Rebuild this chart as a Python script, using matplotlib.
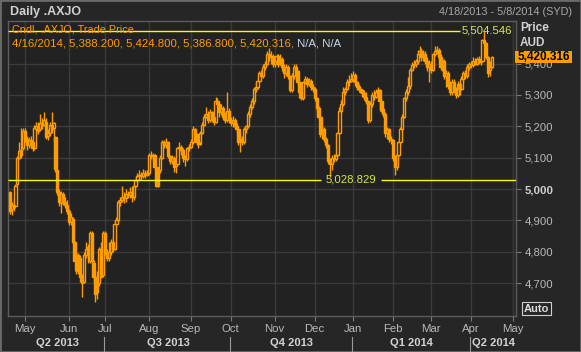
import matplotlib
matplotlib.use('Agg')
import matplotlib.pyplot as plt
import matplotlib.transforms as mtransforms
from matplotlib.patches import Rectangle
import numpy as np
import pandas as pd

FAM = ['Liberation Sans', 'DejaVu Sans']
plt.rcParams['font.family'] = FAM

# ---------------- data ----------------
holidays = ['2013-04-25', '2013-06-10', '2013-12-25', '2013-12-26', '2014-01-01', '2014-01-27']
trade_dates = [d for d in pd.bdate_range('2013-04-18', '2014-04-16') if d.strftime('%Y-%m-%d') not in holidays]
future_dates = list(pd.bdate_range('2014-04-17', '2014-05-08'))

opens = [
    4990, 4935, 4950, 4945, 5015, 5100, 5125, 5130, 5185, 5160,
    5140, 5155, 5150, 5130, 5190, 5200, 5190, 5210, 5205, 5215,
    5170, 5180, 5205, 5195, 5165, 5060, 4990, 4955, 4985, 4960,
    4950, 4930, 4895, 4905, 4830, 4770, 4790, 4780, 4720, 4705,
    4790, 4815, 4770, 4860, 4765, 4720, 4670, 4700, 4810, 4725,
    4860, 4800, 4780, 4800, 4830, 4810, 4890, 4900, 4960, 4965,
    4975, 4970, 4985, 4980, 4990, 4975, 5010, 5030, 5040, 5045,
    5040, 5050, 5045, 5050, 5110, 5105, 5110, 5070, 5010, 5060,
    5100, 5150, 5140, 5150, 5105, 5090, 5100, 5075, 5080, 5130,
    5135, 5125, 5100, 5095, 5130, 5135, 5150, 5190, 5175, 5150,
    5145, 5180, 5205, 5230, 5240, 5220, 5245, 5230, 5215, 5280,
    5270, 5245, 5260, 5230, 5220, 5250, 5220, 5210, 5220, 5200,
    5190, 5150, 5160, 5150, 5190, 5200, 5240, 5262, 5280, 5320,
    5325, 5345, 5370, 5360, 5390, 5400, 5430, 5420, 5425, 5400,
    5410, 5425, 5400, 5415, 5390, 5370, 5390, 5360, 5315, 5360,
    5390, 5375, 5340, 5310, 5290, 5340, 5350, 5335, 5345, 5325,
    5320, 5290, 5260, 5230, 5175, 5190, 5160, 5140, 5090, 5080,
    5100, 5095, 5110, 5180, 5250, 5270, 5310, 5320, 5340, 5345,
    5350, 5365, 5340, 5325, 5320, 5315, 5305, 5295, 5280, 5220,
    5270, 5300, 5295, 5310, 5315, 5280, 5255, 5240, 5180, 5190,
    5160, 5155, 5100, 5070, 5110, 5150, 5190, 5230, 5290, 5310,
    5330, 5380, 5395, 5400, 5410, 5430, 5440, 5420, 5430, 5410,
    5390, 5400, 5380, 5430, 5440, 5445, 5420, 5390, 5410, 5360,
    5370, 5330, 5310, 5340, 5320, 5300, 5335, 5320, 5350, 5370,
    5360, 5390, 5400, 5395, 5410, 5400, 5415, 5405, 5410, 5475,
    5465, 5420, 5380, 5388.2,
]
highs = [
    4995, 4960, 4970, 5016, 5105, 5150, 5195, 5195, 5195, 5170,
    5165, 5170, 5160, 5205, 5215, 5215, 5240, 5225, 5245, 5225,
    5190, 5215, 5245, 5215, 5170, 5065, 5000, 4995, 4990, 4975,
    4965, 4935, 4925, 4910, 4835, 4800, 4795, 4790, 4730, 4800,
    4830, 4825, 4865, 4865, 4775, 4725, 4740, 4815, 4830, 4865,
    4865, 4810, 4830, 4840, 4850, 4900, 4910, 4965, 4975, 5010,
    4990, 5000, 4995, 5005, 5010, 5015, 5040, 5050, 5060, 5055,
    5065, 5060, 5060, 5115, 5120, 5115, 5112, 5075, 5065, 5110,
    5156, 5158, 5162, 5152, 5110, 5110, 5105, 5090, 5135, 5150,
    5140, 5130, 5110, 5135, 5145, 5160, 5200, 5195, 5180, 5165,
    5185, 5215, 5240, 5262, 5250, 5255, 5250, 5240, 5294, 5290,
    5275, 5270, 5265, 5245, 5310, 5260, 5230, 5232, 5225, 5210,
    5195, 5175, 5170, 5198, 5205, 5250, 5270, 5290, 5325, 5340,
    5355, 5375, 5380, 5400, 5410, 5440, 5450, 5440, 5430, 5425,
    5430, 5430, 5430, 5420, 5400, 5400, 5395, 5365, 5370, 5400,
    5400, 5380, 5345, 5320, 5345, 5360, 5357, 5355, 5350, 5335,
    5325, 5295, 5265, 5235, 5200, 5198, 5165, 5145, 5100, 5110,
    5112, 5115, 5185, 5262, 5285, 5325, 5325, 5350, 5365, 5370,
    5375, 5370, 5345, 5335, 5330, 5320, 5315, 5310, 5285, 5280,
    5310, 5315, 5320, 5325, 5320, 5290, 5260, 5245, 5198, 5195,
    5170, 5160, 5110, 5115, 5160, 5198, 5240, 5294, 5320, 5357,
    5385, 5405, 5412, 5415, 5445, 5455, 5450, 5445, 5440, 5420,
    5412, 5410, 5435, 5455, 5455, 5450, 5430, 5420, 5415, 5380,
    5375, 5345, 5350, 5350, 5325, 5345, 5340, 5360, 5375, 5380,
    5400, 5405, 5410, 5420, 5418, 5420, 5425, 5420, 5480, 5504.546,
    5470, 5425, 5410, 5424.8,
]
lows = [
    4920, 4918, 4930, 4940, 5010, 5095, 5100, 5125, 5150, 5125,
    5130, 5135, 5120, 5125, 5180, 5175, 5185, 5190, 5200, 5160,
    5155, 5170, 5180, 5150, 5055, 4980, 4945, 4925, 4950, 4940,
    4920, 4885, 4885, 4825, 4740, 4730, 4730, 4705, 4655, 4700,
    4780, 4765, 4765, 4760, 4700, 4640, 4650, 4690, 4715, 4720,
    4790, 4770, 4770, 4790, 4800, 4805, 4880, 4895, 4945, 4960,
    4955, 4960, 4970, 4970, 4960, 4965, 5005, 5020, 5030, 5030,
    5035, 5035, 5040, 5045, 5095, 5090, 5060, 5005, 5005, 5050,
    5095, 5130, 5130, 5100, 5080, 5080, 5055, 5050, 5075, 5120,
    5110, 5085, 5075, 5090, 5120, 5130, 5145, 5160, 5140, 5130,
    5140, 5175, 5200, 5225, 5210, 5215, 5215, 5205, 5210, 5255,
    5230, 5235, 5220, 5210, 5215, 5210, 5200, 5198, 5195, 5180,
    5140, 5118, 5140, 5145, 5180, 5195, 5230, 5255, 5270, 5310,
    5320, 5340, 5350, 5355, 5380, 5395, 5410, 5400, 5390, 5390,
    5400, 5390, 5395, 5375, 5355, 5360, 5350, 5310, 5310, 5350,
    5365, 5330, 5290, 5284, 5285, 5335, 5325, 5330, 5315, 5310,
    5280, 5250, 5220, 5165, 5160, 5150, 5130, 5080, 5038, 5060,
    5085, 5088, 5105, 5175, 5240, 5265, 5300, 5315, 5330, 5340,
    5340, 5330, 5315, 5310, 5305, 5295, 5285, 5270, 5210, 5215,
    5262, 5285, 5290, 5295, 5250, 5245, 5230, 5166, 5160, 5150,
    5145, 5090, 5045, 5060, 5105, 5140, 5185, 5225, 5280, 5300,
    5320, 5375, 5385, 5390, 5400, 5420, 5410, 5410, 5400, 5375,
    5340, 5370, 5375, 5425, 5430, 5410, 5380, 5375, 5350, 5325,
    5320, 5300, 5300, 5305, 5290, 5295, 5300, 5315, 5340, 5350,
    5355, 5380, 5385, 5390, 5395, 5395, 5398, 5395, 5405, 5450,
    5415, 5357, 5360, 5386.8,
]
closes = [
    4930, 4950, 4945, 5010, 5100, 5120, 5110, 5185, 5160, 5140,
    5155, 5150, 5130, 5195, 5200, 5185, 5210, 5205, 5220, 5165,
    5180, 5205, 5190, 5210, 5065, 4990, 4960, 4985, 4960, 4950,
    4930, 4895, 4910, 4830, 4770, 4790, 4740, 4720, 4700, 4790,
    4810, 4790, 4860, 4770, 4720, 4665, 4700, 4810, 4720, 4860,
    4800, 4780, 4800, 4830, 4810, 4890, 4900, 4960, 4965, 4975,
    4970, 4985, 4980, 4990, 4975, 5010, 5030, 5040, 5045, 5040,
    5050, 5045, 5050, 5110, 5105, 5110, 5070, 5010, 5060, 5100,
    5150, 5140, 5150, 5105, 5090, 5100, 5070, 5080, 5130, 5135,
    5125, 5100, 5095, 5130, 5135, 5150, 5190, 5175, 5150, 5145,
    5180, 5205, 5230, 5240, 5220, 5245, 5230, 5215, 5280, 5270,
    5245, 5260, 5230, 5220, 5250, 5220, 5210, 5220, 5200, 5190,
    5150, 5160, 5150, 5190, 5200, 5240, 5262, 5280, 5320, 5325,
    5345, 5370, 5360, 5390, 5400, 5430, 5420, 5425, 5400, 5410,
    5425, 5400, 5415, 5390, 5370, 5390, 5360, 5315, 5360, 5390,
    5375, 5340, 5310, 5290, 5340, 5350, 5335, 5345, 5325, 5320,
    5290, 5260, 5230, 5175, 5190, 5160, 5140, 5090, 5080, 5100,
    5095, 5110, 5180, 5250, 5270, 5310, 5320, 5340, 5345, 5350,
    5365, 5340, 5325, 5320, 5315, 5305, 5295, 5280, 5220, 5270,
    5300, 5295, 5310, 5315, 5280, 5255, 5240, 5180, 5190, 5160,
    5155, 5100, 5070, 5110, 5150, 5190, 5230, 5290, 5310, 5330,
    5380, 5395, 5400, 5410, 5430, 5440, 5420, 5430, 5410, 5390,
    5400, 5380, 5430, 5440, 5445, 5420, 5390, 5410, 5360, 5370,
    5330, 5310, 5340, 5320, 5300, 5335, 5320, 5350, 5370, 5360,
    5390, 5400, 5395, 5410, 5400, 5415, 5405, 5410, 5475, 5465,
    5420, 5370, 5388, 5420.316,
]

y_ticks = [4700, 4800, 4900, 5000, 5100, 5200, 5300, 5400]
high_line = 5504.546
low_line = 5028.829
last_price = 5420.316
header_line1 = 'Cndl, .AXJO, Trade Price'
header_line2 = '4/16/2014, 5,388.200, 5,424.800, 5,386.800, 5,420.316,'
header_na = ' N/A, N/A'
quarters = [('Q2 2013', '2013-04-01'), ('Q3 2013', '2013-07-01'), ('Q4 2013', '2013-10-01'),
            ('Q1 2014', '2014-01-01'), ('Q2 2014', '2014-04-01')]

# ---------------- styling ----------------
W, H = 581, 352
FIG_BG = '#262626'
AX_BG = '#222222'
GRID = '#3b3b3b'
SPINE = '#5c5c5c'
ORANGE = '#ff9c00'
YELLOW = '#ffff00'
LBLYEL = '#d4e84a'
TXT = '#b9b9b9'
TXT2 = '#d2d2d2'
FS = 8.2

def fx(x):
    return x / W

def fy(y):
    return 1 - y / H

fig = plt.figure(figsize=(W / 100, H / 100), dpi=100, facecolor=FIG_BG)
L, R, T, B = 8, 516, 21, 316
ax = fig.add_axes([fx(L), fy(B), fx(R - L), (B - T) / H])
ax.set_facecolor(AX_BG)

all_dates = pd.DatetimeIndex(trade_dates + future_dates)
n = len(closes)
x = np.arange(n)
o = np.array(opens, float)
h = np.array(highs, float)
l = np.array(lows, float)
c = np.array(closes, float)
up = c >= o

ax.vlines(x, l, h, color=ORANGE, lw=1.0, zorder=3)
bot = np.minimum(o, c)
hei = np.maximum(np.abs(c - o), 2.0)
ax.bar(x[up], hei[up], bottom=bot[up], width=1.15, facecolor=AX_BG, edgecolor=ORANGE, linewidth=1.0, zorder=4)
ax.bar(x[~up], hei[~up], bottom=bot[~up], width=1.15, facecolor=ORANGE, edgecolor=ORANGE, linewidth=1.0, zorder=4)

ax.set_xlim(-0.9, 265.6)
ax.set_ylim(4595, 5536)

# month ticks
month_starts = []
month_labels = []
prev = None
for i, d in enumerate(all_dates):
    key = (d.year, d.month)
    if key != prev:
        if i > 0:
            month_starts.append(i)
            month_labels.append(d.strftime('%b'))
        prev = key
ax.set_xticks(month_starts)
ax.set_xticklabels(month_labels)
ax.set_yticks(y_ticks)
ax.set_yticklabels(['{:,}'.format(v) for v in y_ticks])
ax.yaxis.tick_right()
ax.tick_params(axis='both', colors='#7a7a7a', labelcolor=TXT, labelsize=FS, length=3.5, width=0.8)
ax.tick_params(axis='y', pad=2.5)
ax.tick_params(axis='x', pad=2.5)
for lab in ax.get_yticklabels():
    if lab.get_text() == '5,000':
        lab.set_fontweight('bold')
        lab.set_color('#d0d0d0')
ax.grid(True, color=GRID, lw=1.0)
ax.set_axisbelow(True)
for s in ax.spines.values():
    s.set_color(SPINE)
    s.set_linewidth(1.0)

# reference lines
def xi(px):
    return (px - 9.75) / 1.906

ax.hlines(high_line, -0.9, xi(460), color=YELLOW, lw=1.0, zorder=5)
ax.text(xi(462), high_line, '{:,.3f}'.format(high_line), color=LBLYEL, fontsize=FS,
        ha='left', va='center', zorder=6, clip_on=False)
ax.hlines(low_line, -0.9, xi(321), color=YELLOW, lw=1.0, zorder=5)
ax.hlines(low_line, xi(381), 265.6, color=YELLOW, lw=1.0, zorder=5)
ax.text(xi(351), low_line, '{:,.3f}'.format(low_line), color=LBLYEL, fontsize=FS,
        ha='center', va='center', zorder=6)

# header texts
fig.text(fx(10), fy(12), 'Daily .AXJO', color=TXT2, fontsize=9, fontweight='bold', ha='left', va='center')
fig.text(fx(572), fy(12), '4/18/2013 - 5/8/2014 (SYD)', color='#a8a8a8', fontsize=7.8, ha='right', va='center')
fig.text(fx(12), fy(29), header_line1, color=ORANGE, fontsize=7.8, ha='left', va='center', zorder=1)
t2 = fig.text(fx(12), fy(43), header_line2, color=ORANGE, fontsize=FS, ha='left', va='center')
ax.annotate(header_na, xy=(1, 0), xycoords=t2, ha='left', va='bottom', color='#c9d6e6', fontsize=FS,
            annotation_clip=False)

fig.text(fx(520), fy(28), 'Price', color=TXT2, fontsize=8.5, fontweight='bold', ha='left', va='center')
fig.text(fx(520), fy(43), 'AUD', color=TXT2, fontsize=8.5, fontweight='bold', ha='left', va='center')

# last price box
trans = mtransforms.blended_transform_factory(fig.transFigure, ax.transData)
ax.add_patch(Rectangle((fx(515), last_price - 19), fx(57), 38, transform=trans, facecolor='#ff9c00',
                       edgecolor='none', clip_on=False, zorder=10))
ax.text(fx(543.5), last_price, '{:,.3f}'.format(last_price), transform=trans, color='black', fontsize=8.5,
        fontweight='bold', ha='center', va='center', zorder=11, clip_on=False)

# Auto box
fig.patches.append(Rectangle((fx(522), fy(315)), fx(29), 13 / H, transform=fig.transFigure,
                             facecolor='none', edgecolor='#cfcfcf', lw=0.8))
fig.text(fx(536.5), fy(308.5), 'Auto', color='#dcdcdc', fontsize=8, fontweight='bold', ha='center', va='center')

# quarter labels
btr = mtransforms.blended_transform_factory(ax.transData, fig.transFigure)
q_idx = []
for name, ds in quarters:
    d = pd.Timestamp(ds)
    q_idx.append(int(np.searchsorted(all_dates, d)))
xmin, xmax = ax.get_xlim()
for k, (name, ds) in enumerate(quarters):
    a = max(q_idx[k], xmin)
    b = q_idx[k + 1] if k + 1 < len(q_idx) else xmax
    b = min(b, xmax)
    fig.text((a + b) / 2, fy(343), name, transform=btr, color=TXT2, fontsize=8, fontweight='bold',
             ha='center', va='center')
    if k > 0:
        fig.add_artist(plt.Line2D([q_idx[k] - 0.5, q_idx[k] - 0.5], [fy(337), fy(351)], transform=btr,
                                  color='#9a9a9a', lw=0.8))

# outer border
fig.patches.append(Rectangle((0, 0), 1, 1, transform=fig.transFigure, facecolor='none',
                             edgecolor='#6a6a6a', lw=2.0))

fig.savefig('out.png', dpi=100, facecolor=FIG_BG)
